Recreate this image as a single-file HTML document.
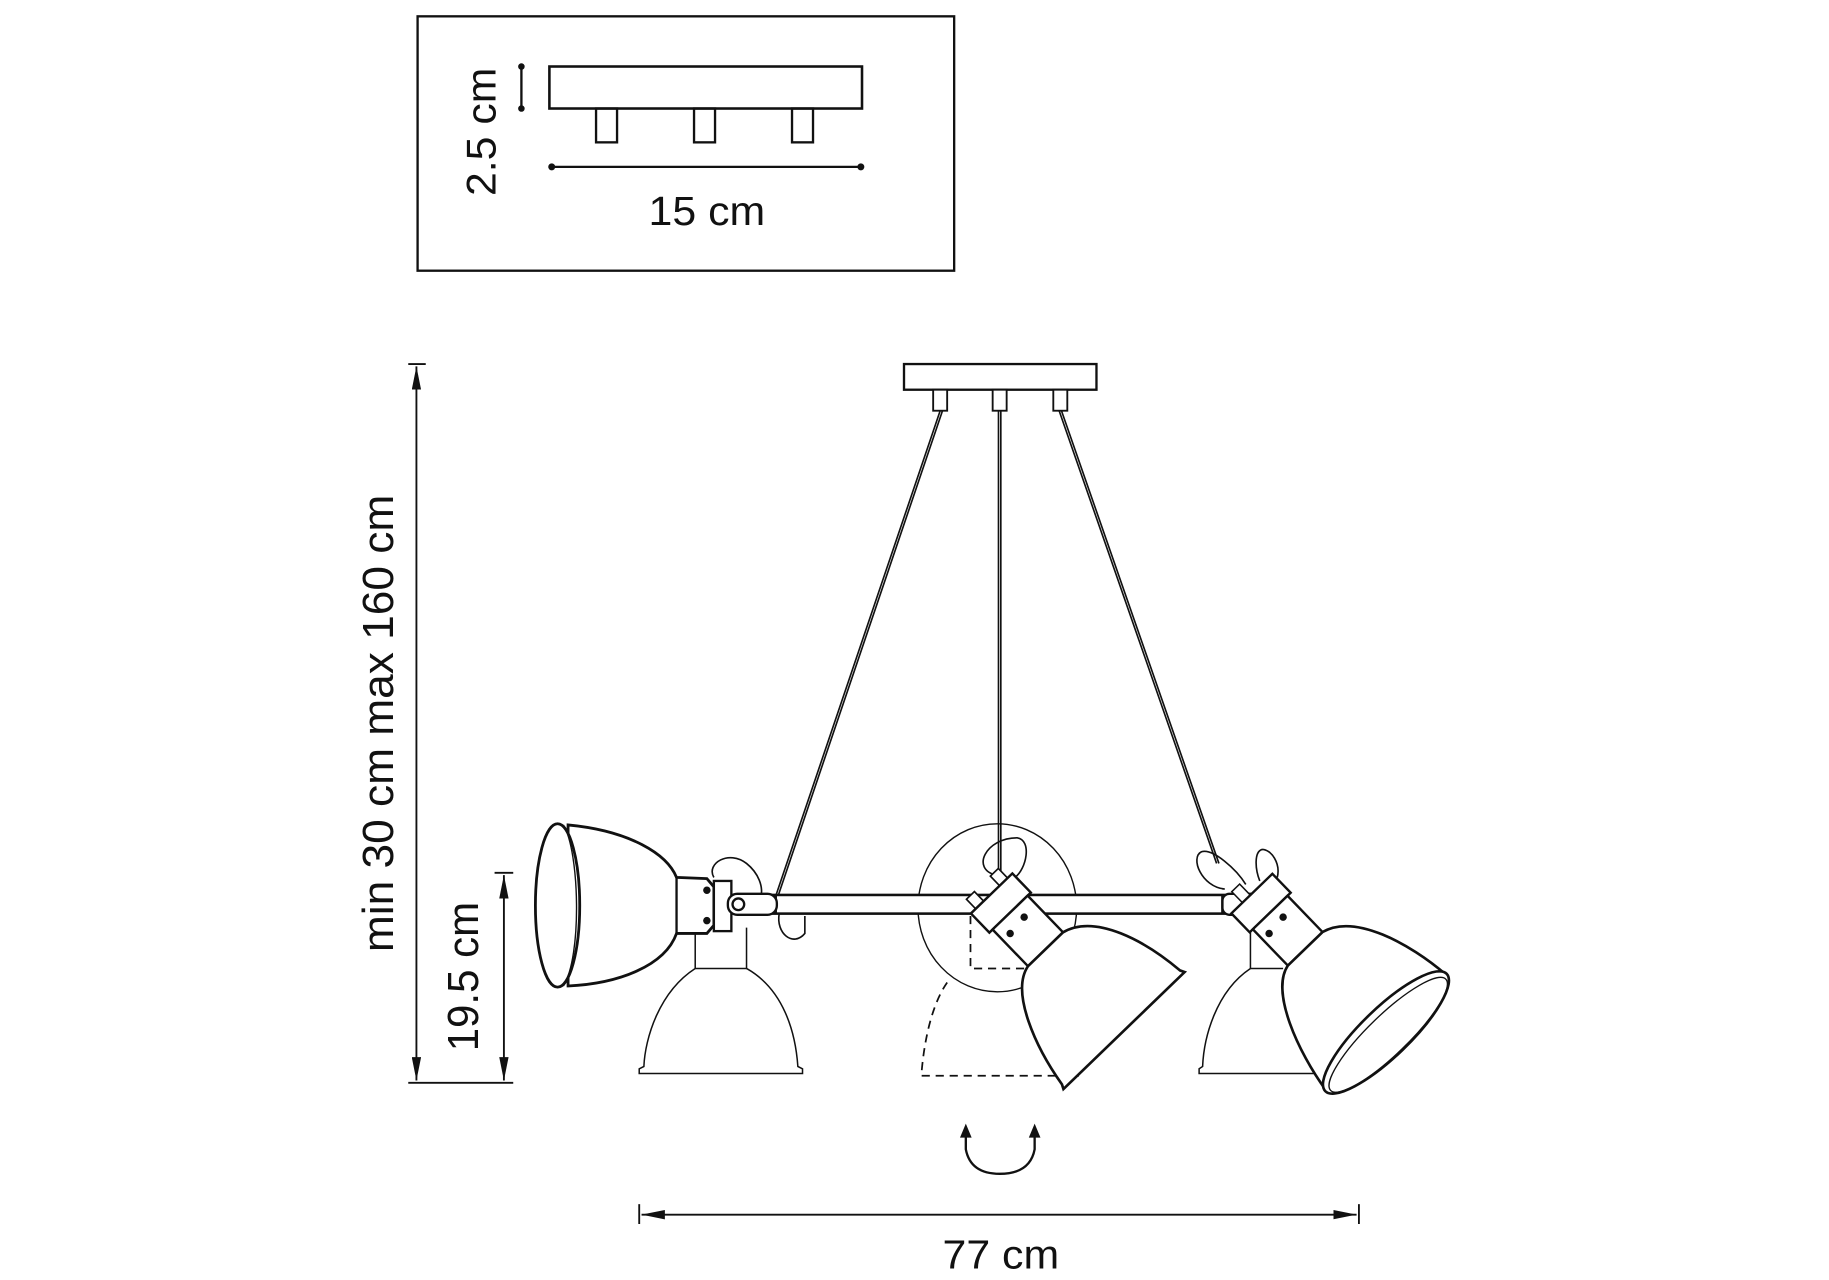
<!DOCTYPE html>
<html><head><meta charset="utf-8"><style>html,body{margin:0;padding:0;background:#fff}svg{display:block}</style></head>
<body>
<svg width="1829" height="1280" viewBox="0 0 1568 1097" preserveAspectRatio="none" xmlns="http://www.w3.org/2000/svg" font-family="Liberation Sans, sans-serif">
<defs>
<marker id="ah" viewBox="0 0 20 8" refX="20" refY="4" markerWidth="20" markerHeight="8" markerUnits="userSpaceOnUse" orient="auto-start-reverse"><path d="M0,0 L20,4 L0,8 Z" fill="#111"/></marker>
</defs>
<g fill="none" stroke="#111">
<rect x="358" y="14" width="460" height="218" stroke-width="2"/>
<rect x="471" y="57" width="268" height="36" stroke-width="2.2"/>
<rect x="511" y="93" width="18" height="29" stroke-width="2"/>
<rect x="595" y="93" width="18" height="29" stroke-width="2"/>
<rect x="679" y="93" width="18" height="29" stroke-width="2"/>
<line x1="447" y1="57" x2="447" y2="93" stroke-width="2"/>
<line x1="473" y1="143" x2="738" y2="143" stroke-width="2"/>
</g>
<g fill="#111"><circle cx="447" cy="57" r="2.8"/><circle cx="447" cy="93" r="2.8"/><circle cx="473" cy="143" r="3"/><circle cx="738" cy="143" r="3"/></g>
<text x="606" y="193" font-size="35" text-anchor="middle" textLength="100" lengthAdjust="spacingAndGlyphs" fill="#111">15 cm</text>
<text transform="translate(425,113) rotate(-90)" font-size="36" text-anchor="middle" textLength="110" lengthAdjust="spacingAndGlyphs" fill="#111">2.5 cm</text>

<g stroke="#111" fill="none" stroke-width="1.6">
<line x1="357" y1="314" x2="357" y2="926" marker-start="url(#ah)" marker-end="url(#ah)"/>
<line x1="350" y1="312" x2="365" y2="312"/>
<line x1="350" y1="928" x2="440" y2="928"/>
<line x1="432" y1="750" x2="432" y2="926" marker-start="url(#ah)" marker-end="url(#ah)"/>
<line x1="424" y1="748" x2="440" y2="748"/>
<line x1="550" y1="1041" x2="1163" y2="1041" marker-start="url(#ah)" marker-end="url(#ah)"/>
<line x1="548" y1="1032" x2="548" y2="1049"/>
<line x1="1165" y1="1032" x2="1165" y2="1049"/>
</g>
<text transform="translate(337,620) rotate(-90)" font-size="37" text-anchor="middle" textLength="392" lengthAdjust="spacingAndGlyphs" fill="#111">min 30 cm max 160 cm</text>
<text transform="translate(410,837) rotate(-90)" font-size="37" text-anchor="middle" textLength="128" lengthAdjust="spacingAndGlyphs" fill="#111">19.5 cm</text>
<text x="858" y="1087" font-size="35" text-anchor="middle" textLength="100" lengthAdjust="spacingAndGlyphs" fill="#111">77 cm</text>

<path d="M828,972 L828,985 Q832,1006 857,1006 Q883,1006 887,985 L887,972" fill="none" stroke="#111" stroke-width="2"/>
<path d="M823,975 L828,963 L833,975 Z M882,975 L887,963 L892,975 Z" fill="#111"/>

<g fill="#fff" stroke="#111" stroke-width="2">
<rect x="775" y="312" width="165" height="22"/>
<rect x="800" y="334" width="12" height="18" stroke-width="1.6"/>
<rect x="851" y="334" width="12" height="18" stroke-width="1.6"/>
<rect x="903" y="334" width="12" height="18" stroke-width="1.6"/>
</g>
<g stroke="#111" stroke-width="1.4" fill="none">
<path d="M806,352 L665,768" /><path d="M808,352 L667,768"/>
<path d="M856,352 L856,748"/><path d="M858,352 L858,748"/>
<path d="M908,352 L1043,740"/><path d="M910,352 L1045,740"/>
</g>

<ellipse cx="855" cy="778" rx="68" ry="72" fill="none" stroke="#111" stroke-width="1.2"/>

<g fill="none" stroke="#111" stroke-width="1.3">
<path d="M596,795 L596,830 L640,830 L640,795"/>
<path d="M596,830 C565,850 553,890 552,914 L548,916 L548,920 L688,920 L688,916 L684,914 C682,885 672,848 640,830"/>
<path d="M1072,795 L1072,830 L1100,830"/>
<path d="M1072,830 C1042,850 1032,890 1031,914 L1028,916 L1028,920 L1145,920"/>
</g>
<g fill="none" stroke="#111" stroke-width="1.5" stroke-dasharray="7,5">
<path d="M832,785 L832,830 L878,830"/>
<path d="M812,842 C798,862 792,895 790,920 L790,922 L925,922"/>
</g>

<g fill="#fff" stroke="#111" stroke-width="2.2">
<rect x="640" y="767" width="430" height="16"/>
<line x1="665" y1="767" x2="665" y2="783"/>
<line x1="1048" y1="767" x2="1048" y2="783"/>
</g>

<g stroke="#111" fill="#fff">
<path d="M612,752 C605,740 625,728 640,740 C650,748 655,760 652,770" fill="none" stroke-width="1.4"/>
<path d="M668,783 C665,800 680,812 690,800 L690,785" fill="none" stroke-width="1.4"/>
<path d="M487,707 C540,712 572,732 580,752 L606,753 L612,760 L612,793 L606,800 L580,800 C570,828 530,843 487,845 Z" stroke-width="2.4"/>
<ellipse cx="478" cy="776" rx="19" ry="70" stroke-width="2.4"/>
<path d="M483,707 C497,730 499,820 483,845" fill="none" stroke-width="1.2"/>
<line x1="580" y1="752" x2="580" y2="800" stroke-width="2"/>
<rect x="612" y="755" width="15" height="43" stroke-width="2"/>
<rect x="624" y="766" width="42" height="18" rx="8" stroke-width="2"/>
<circle cx="633" cy="775" r="5" stroke-width="2"/>
</g>
<circle cx="606" cy="763" r="3.2" fill="#111"/><circle cx="606" cy="789" r="3.2" fill="#111"/>

<g stroke="#111" fill="#fff" stroke-width="2">
<rect x="1048" y="766" width="42" height="18" rx="6"/>
<circle cx="1080" cy="775" r="5"/>
</g>
<g fill="none" stroke="#111" stroke-width="1.4">
<path d="M1050,762 C1030,760 1020,735 1030,730 C1040,727 1060,745 1068,758"/>
<path d="M1080,755 C1076,745 1075,730 1082,728 C1090,728 1098,740 1095,752"/>
<path d="M854,750 C832,745 845,718 872,718 C885,720 880,745 870,752"/>
</g>

<g transform="translate(862,778) rotate(-44) scale(0.95)" stroke="#111" fill="#fff">
<rect x="-20" y="-30" width="10" height="18" stroke-width="1.5"/>
<rect x="10" y="-30" width="10" height="18" stroke-width="1.5"/>
<rect x="-26" y="-18" width="52" height="24" stroke-width="2.2"/>
<path d="M-22,6 L22,6 L22,52 L-22,52 Z" stroke-width="2.2"/>
<path d="M-22,52 C-50,58 -68,110 -74,150 L-76,154 L76,154 L74,150 C70,110 55,60 22,52 Z" stroke-width="2.4"/>
</g>
<g fill="#111"><circle cx="878" cy="786" r="3.2"/><circle cx="866" cy="800" r="3.2"/></g>

<g transform="translate(1085,778) rotate(-44) scale(0.94)" stroke="#111" fill="#fff">
<rect x="-12" y="-32" width="10" height="14" stroke-width="1.4"/>
<rect x="-26" y="-18" width="52" height="24" stroke-width="2.2"/>
<path d="M-22,6 L22,6 L22,52 L-22,52 Z" stroke-width="2.2"/>
<path d="M-22,52 C-50,58 -70,115 -76,158 L76,158 C72,115 55,60 22,52 Z" stroke-width="2.4"/>
<ellipse cx="0" cy="158" rx="77" ry="22" stroke-width="2.4"/>
<ellipse cx="0" cy="161" rx="73" ry="18" fill="none" stroke-width="1.2"/>
</g>
<g fill="#111"><circle cx="1100" cy="786" r="3.2"/><circle cx="1088" cy="800" r="3.2"/></g>
</svg>
</body></html>
